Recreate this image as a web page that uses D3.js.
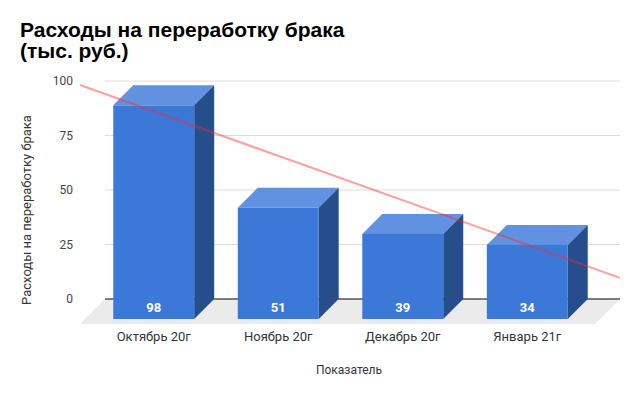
<!DOCTYPE html>
<html>
<head>
<meta charset="utf-8">
<script src="https://cdn.jsdelivr.net/npm/d3@7"></script>
<style>
  body { margin: 0; background: #fff; }
  text { font-family: Roboto, "Liberation Sans", Arial, sans-serif; }
</style>
</head>
<body>
<div class="chart"></div>
<script>
var svgWidth = 640;
var svgHeight = 396;

// data
var months = ["Октябрь 20г", "Ноябрь 20г", "Декабрь 20г", "Январь 21г"];
var costs = [98, 51, 39, 34];
var yTicks = [0, 25, 50, 75, 100];

var titleLines = ["Расходы на переработку брака", "(тыс. руб.)"];
var yTitle = "Расходы на переработку брака";
var xTitle = "Показатель";

var depth = 20;      // 3d offset of the bars
var floorDepth = 25;
var back = { left: 105, right: 620 };

var svg = d3.select(".chart")
  .append("svg")
  .attr("width", svgWidth)
  .attr("height", svgHeight);

// scales: y is on the back wall, x on the front plane
var yScale = d3.scaleLinear()
  .domain([0, 100])
  .range([299, 81]);

var xScale = d3.scaleBand()
  .domain(months)
  .range([83, 598])
  .paddingInner(0.35)
  .paddingOuter(0.243);

var bw = xScale.bandwidth();
var y0 = yScale(0);

// title
svg.append("text")
  .attr("x", 20)
  .attr("y", 37)
  .attr("font-size", 21)
  .attr("font-weight", "bold")
  .attr("fill", "#000")
  .style("font-family", "'Liberation Sans', Arial, sans-serif")
  .selectAll("tspan")
  .data(titleLines)
  .enter()
  .append("tspan")
  .attr("x", 20)
  .attr("dy", (d, i) => i == 0 ? 0 : 21)
  .text(d => d);

// grid lines on back wall
svg.append("g")
  .selectAll("line")
  .data(yTicks.filter(t => t > 0))
  .enter()
  .append("line")
  .attr("x1", back.left)
  .attr("x2", back.right)
  .attr("y1", d => yScale(d))
  .attr("y2", d => yScale(d))
  .attr("stroke", "#dcdcdc")
  .attr("stroke-width", 1);

// y tick labels
svg.append("g")
  .selectAll("text")
  .data(yTicks)
  .enter()
  .append("text")
  .attr("x", 73)
  .attr("y", d => yScale(d))
  .attr("dy", "0.35em")
  .attr("text-anchor", "end")
  .attr("font-size", 12)
  .attr("fill", "#444")
  .text(d => d);

// floor
svg.append("path")
  .attr("d", `M${back.left},${y0} L${back.right},${y0} L${back.right - floorDepth},${y0 + floorDepth} L${back.left - floorDepth},${y0 + floorDepth} Z`)
  .attr("fill", "#ebebeb");

// base line
svg.append("line")
  .attr("x1", back.left)
  .attr("x2", back.right)
  .attr("y1", y0)
  .attr("y2", y0)
  .attr("stroke", "#555")
  .attr("stroke-width", 1.5);

// bars
var bars = svg.append("g")
  .selectAll("g")
  .data(months.map((m, i) => ({ month: m, value: costs[i] })))
  .enter()
  .append("g");

bars.append("path")
  .attr("d", function(d) {
    var x = xScale(d.month), yf = yScale(d.value) + depth;
    return `M${x},${yf} L${x + depth},${yf - depth} L${x + bw + depth},${yf - depth} L${x + bw},${yf} Z`;
  })
  .attr("fill", "#6191e1");

bars.append("path")
  .attr("d", function(d) {
    var x = xScale(d.month), yf = yScale(d.value) + depth;
    return `M${x + bw},${yf} L${x + bw + depth},${yf - depth} L${x + bw + depth},${y0} L${x + bw},${y0 + depth} Z`;
  })
  .attr("fill", "#264e8c");

bars.append("rect")
  .attr("x", d => xScale(d.month))
  .attr("y", d => yScale(d.value) + depth)
  .attr("width", bw)
  .attr("height", d => y0 - yScale(d.value))
  .attr("fill", "#3c78d8");

// linear trend line (least squares over bar index)
var mx = d3.mean(costs, (d, i) => i);
var my = d3.mean(costs);
var slope = d3.sum(costs, (d, i) => (i - mx) * (d - my)) / d3.sum(costs, (d, i) => (i - mx) * (i - mx));
var icpt = my - slope * mx;
var c0 = xScale(months[0]) + bw / 2;
var step = xScale.step();
var trendX = [back.left - floorDepth, back.right];

svg.append("line")
  .attr("x1", trendX[0])
  .attr("x2", trendX[1])
  .attr("y1", yScale(icpt + slope * (trendX[0] - c0) / step))
  .attr("y2", yScale(icpt + slope * (trendX[1] - c0) / step))
  .attr("stroke", "#ff2a2a")
  .attr("stroke-opacity", 0.45)
  .attr("stroke-width", 2);

// value labels
bars.append("text")
  .attr("x", d => xScale(d.month) + bw / 2)
  .attr("y", 312)
  .attr("text-anchor", "middle")
  .attr("font-size", 13)
  .attr("font-weight", "bold")
  .attr("fill", "#fff")
  .text(d => d.value);

// x tick labels
svg.append("g")
  .selectAll("text")
  .data(months)
  .enter()
  .append("text")
  .attr("x", d => xScale(d) + bw / 2)
  .attr("y", 341)
  .attr("text-anchor", "middle")
  .attr("font-size", 13)
  .attr("fill", "#333")
  .text(d => d);

// axis titles
svg.append("text")
  .attr("transform", "translate(31, 210) rotate(-90)")
  .attr("text-anchor", "middle")
  .attr("font-size", 13)
  .attr("fill", "#333")
  .text(yTitle);

svg.append("text")
  .attr("x", 349)
  .attr("y", 374)
  .attr("text-anchor", "middle")
  .attr("font-size", 12)
  .attr("fill", "#333")
  .text(xTitle);
</script>
</body>
</html>
